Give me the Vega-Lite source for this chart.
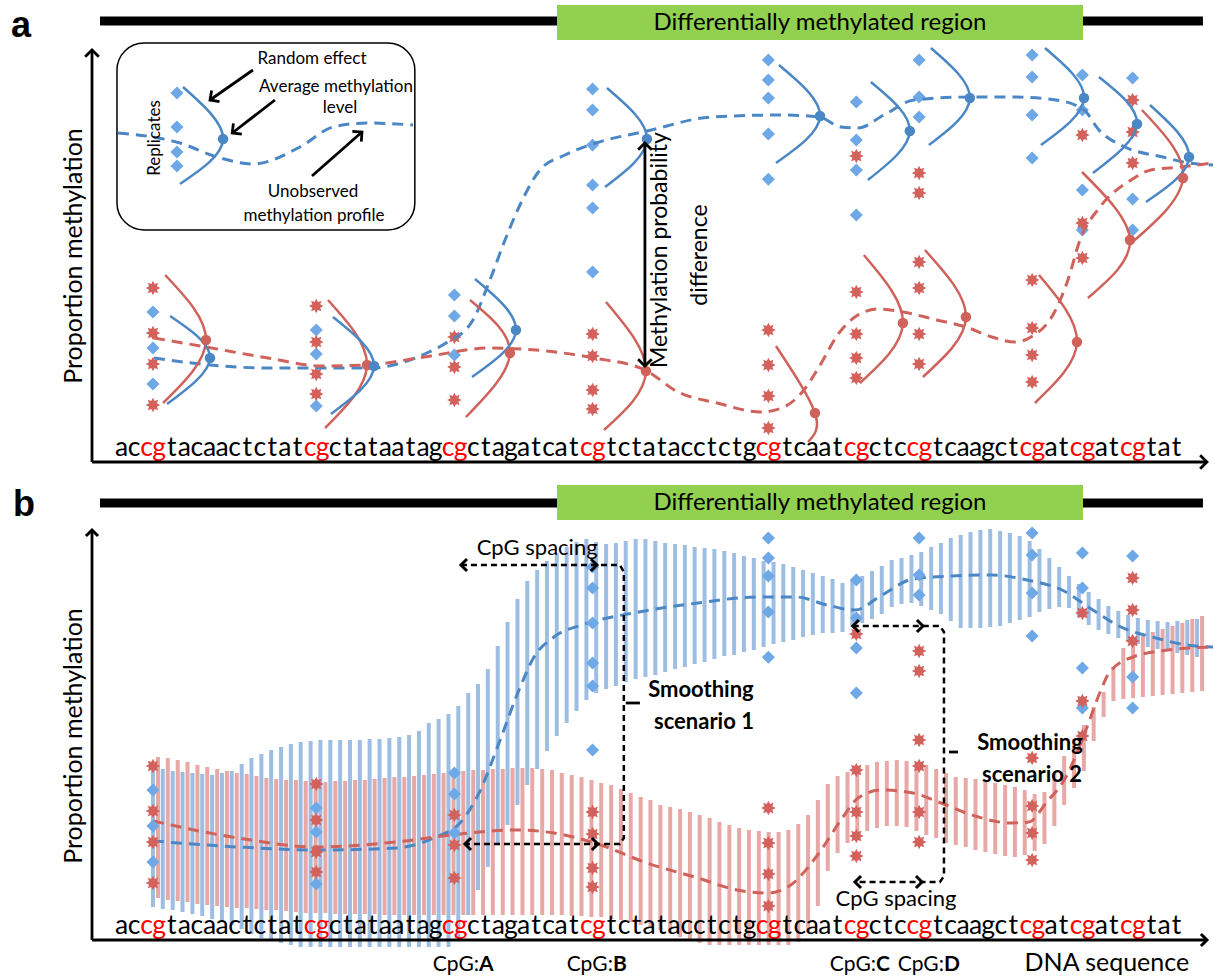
{
"$schema":"https://vega.github.io/schema/vega-lite/v6.json",
"padding":0,"spacing":0,"bounds":"flush","background":"white",
"config":{"view":{"stroke":null},"axis":{"disable":true},"font":"Lato"},
"datasets":{
"dna":[{"x":0.5,"y":0.015,"t":"a","r":"k"},{"x":1.5,"y":0.015,"t":"c","r":"k"},{"x":2.5,"y":0.015,"t":"c","r":"r"},{"x":3.5,"y":0.015,"t":"g","r":"r"},{"x":4.5,"y":0.015,"t":"t","r":"k"},{"x":5.5,"y":0.015,"t":"a","r":"k"},{"x":6.5,"y":0.015,"t":"c","r":"k"},{"x":7.5,"y":0.015,"t":"a","r":"k"},{"x":8.5,"y":0.015,"t":"a","r":"k"},{"x":9.5,"y":0.015,"t":"c","r":"k"},{"x":10.5,"y":0.015,"t":"t","r":"k"},{"x":11.5,"y":0.015,"t":"c","r":"k"},{"x":12.5,"y":0.015,"t":"t","r":"k"},{"x":13.5,"y":0.015,"t":"a","r":"k"},{"x":14.5,"y":0.015,"t":"t","r":"k"},{"x":15.5,"y":0.015,"t":"c","r":"r"},{"x":16.5,"y":0.015,"t":"g","r":"r"},{"x":17.5,"y":0.015,"t":"c","r":"k"},{"x":18.5,"y":0.015,"t":"t","r":"k"},{"x":19.5,"y":0.015,"t":"a","r":"k"},{"x":20.5,"y":0.015,"t":"t","r":"k"},{"x":21.5,"y":0.015,"t":"a","r":"k"},{"x":22.5,"y":0.015,"t":"a","r":"k"},{"x":23.5,"y":0.015,"t":"t","r":"k"},{"x":24.5,"y":0.015,"t":"a","r":"k"},{"x":25.5,"y":0.015,"t":"g","r":"k"},{"x":26.5,"y":0.015,"t":"c","r":"r"},{"x":27.5,"y":0.015,"t":"g","r":"r"},{"x":28.5,"y":0.015,"t":"c","r":"k"},{"x":29.5,"y":0.015,"t":"t","r":"k"},{"x":30.5,"y":0.015,"t":"a","r":"k"},{"x":31.5,"y":0.015,"t":"g","r":"k"},{"x":32.5,"y":0.015,"t":"a","r":"k"},{"x":33.5,"y":0.015,"t":"t","r":"k"},{"x":34.5,"y":0.015,"t":"c","r":"k"},{"x":35.5,"y":0.015,"t":"a","r":"k"},{"x":36.5,"y":0.015,"t":"t","r":"k"},{"x":37.5,"y":0.015,"t":"c","r":"r"},{"x":38.5,"y":0.015,"t":"g","r":"r"},{"x":39.5,"y":0.015,"t":"t","r":"k"},{"x":40.5,"y":0.015,"t":"c","r":"k"},{"x":41.5,"y":0.015,"t":"t","r":"k"},{"x":42.5,"y":0.015,"t":"a","r":"k"},{"x":43.5,"y":0.015,"t":"t","r":"k"},{"x":44.5,"y":0.015,"t":"a","r":"k"},{"x":45.5,"y":0.015,"t":"c","r":"k"},{"x":46.5,"y":0.015,"t":"c","r":"k"},{"x":47.5,"y":0.015,"t":"t","r":"k"},{"x":48.5,"y":0.015,"t":"c","r":"k"},{"x":49.5,"y":0.015,"t":"t","r":"k"},{"x":50.5,"y":0.015,"t":"g","r":"k"},{"x":51.5,"y":0.015,"t":"c","r":"r"},{"x":52.5,"y":0.015,"t":"g","r":"r"},{"x":53.5,"y":0.015,"t":"t","r":"k"},{"x":54.5,"y":0.015,"t":"c","r":"k"},{"x":55.5,"y":0.015,"t":"a","r":"k"},{"x":56.5,"y":0.015,"t":"a","r":"k"},{"x":57.5,"y":0.015,"t":"t","r":"k"},{"x":58.5,"y":0.015,"t":"c","r":"r"},{"x":59.5,"y":0.015,"t":"g","r":"r"},{"x":60.5,"y":0.015,"t":"c","r":"k"},{"x":61.5,"y":0.015,"t":"t","r":"k"},{"x":62.5,"y":0.015,"t":"c","r":"k"},{"x":63.5,"y":0.015,"t":"c","r":"r"},{"x":64.5,"y":0.015,"t":"g","r":"r"},{"x":65.5,"y":0.015,"t":"t","r":"k"},{"x":66.5,"y":0.015,"t":"c","r":"k"},{"x":67.5,"y":0.015,"t":"a","r":"k"},{"x":68.5,"y":0.015,"t":"a","r":"k"},{"x":69.5,"y":0.015,"t":"g","r":"k"},{"x":70.5,"y":0.015,"t":"c","r":"k"},{"x":71.5,"y":0.015,"t":"t","r":"k"},{"x":72.5,"y":0.015,"t":"c","r":"r"},{"x":73.5,"y":0.015,"t":"g","r":"r"},{"x":74.5,"y":0.015,"t":"a","r":"k"},{"x":75.5,"y":0.015,"t":"t","r":"k"},{"x":76.5,"y":0.015,"t":"c","r":"r"},{"x":77.5,"y":0.015,"t":"g","r":"r"},{"x":78.5,"y":0.015,"t":"a","r":"k"},{"x":79.5,"y":0.015,"t":"t","r":"k"},{"x":80.5,"y":0.015,"t":"c","r":"r"},{"x":81.5,"y":0.015,"t":"g","r":"r"},{"x":82.5,"y":0.015,"t":"t","r":"k"},{"x":83.5,"y":0.015,"t":"a","r":"k"},{"x":84.5,"y":0.015,"t":"t","r":"k"}],
"bands":[{"x":2,"x2":4},{"x":15,"x2":17},{"x":26,"x2":28},{"x":37,"x2":39},{"x":51,"x2":53},{"x":58,"x2":60},{"x":63,"x2":65},{"x":72,"x2":74},{"x":76,"x2":78},{"x":80,"x2":82}],
"obs":[
{"x":3,"y":0.435,"g":"r"},{"x":3,"y":0.3225,"g":"r"},{"x":3,"y":0.245,"g":"r"},{"x":3,"y":0.1425,"g":"r"},
{"x":3,"y":0.375,"g":"b"},{"x":3,"y":0.285,"g":"b"},{"x":3,"y":0.195,"g":"b"},
{"x":16,"y":0.39,"g":"r"},{"x":16,"y":0.30,"g":"r"},{"x":16,"y":0.22,"g":"r"},{"x":16,"y":0.17,"g":"r"},
{"x":16,"y":0.33,"g":"b"},{"x":16,"y":0.27,"g":"b"},{"x":16,"y":0.14,"g":"b"},
{"x":27,"y":0.4175,"g":"b"},{"x":27,"y":0.365,"g":"b"},{"x":27,"y":0.2675,"g":"b"},
{"x":27,"y":0.3125,"g":"r"},{"x":27,"y":0.2375,"g":"r"},{"x":27,"y":0.155,"g":"r"},
{"x":38,"y":0.9325,"g":"b"},{"x":38,"y":0.88,"g":"b"},{"x":38,"y":0.7925,"g":"b"},{"x":38,"y":0.6925,"g":"b"},{"x":38,"y":0.635,"g":"b"},{"x":38,"y":0.475,"g":"b"},
{"x":38,"y":0.32,"g":"r"},{"x":38,"y":0.265,"g":"r"},{"x":38,"y":0.18,"g":"r"},{"x":38,"y":0.1325,"g":"r"},
{"x":52,"y":1.005,"g":"b"},{"x":52,"y":0.955,"g":"b"},{"x":52,"y":0.91,"g":"b"},{"x":52,"y":0.82,"g":"b"},{"x":52,"y":0.707,"g":"b"},
{"x":52,"y":0.33,"g":"r"},{"x":52,"y":0.2425,"g":"r"},{"x":52,"y":0.165,"g":"r"},{"x":52,"y":0.085,"g":"r"},
{"x":59,"y":0.9,"g":"b"},{"x":59,"y":0.805,"g":"b"},{"x":59,"y":0.73,"g":"b"},{"x":59,"y":0.6175,"g":"b"},
{"x":59,"y":0.765,"g":"r"},{"x":59,"y":0.425,"g":"r"},{"x":59,"y":0.32,"g":"r"},{"x":59,"y":0.26,"g":"r"},{"x":59,"y":0.21,"g":"r"},
{"x":64,"y":1.005,"g":"b"},{"x":64,"y":0.9125,"g":"b"},{"x":64,"y":0.8625,"g":"b"},
{"x":64,"y":0.7225,"g":"r"},{"x":64,"y":0.6725,"g":"r"},{"x":64,"y":0.5,"g":"r"},{"x":64,"y":0.435,"g":"r"},{"x":64,"y":0.32,"g":"r"},{"x":64,"y":0.245,"g":"r"},
{"x":73,"y":1.0175,"g":"b"},{"x":73,"y":0.9625,"g":"b"},{"x":73,"y":0.8675,"g":"b"},{"x":73,"y":0.76,"g":"b"},
{"x":73,"y":0.455,"g":"r"},{"x":73,"y":0.335,"g":"r"},{"x":73,"y":0.2675,"g":"r"},{"x":73,"y":0.2,"g":"r"},
{"x":77,"y":0.9675,"g":"b"},{"x":77,"y":0.88,"g":"b"},{"x":77,"y":0.68,"g":"b"},{"x":77,"y":0.58,"g":"b"},
{"x":77,"y":0.8175,"g":"r"},{"x":77,"y":0.5975,"g":"r"},{"x":77,"y":0.51,"g":"r"},
{"x":81,"y":0.96,"g":"b"},{"x":81,"y":0.6575,"g":"b"},{"x":81,"y":0.58,"g":"b"},
{"x":81,"y":0.905,"g":"r"},{"x":81,"y":0.825,"g":"r"},{"x":81,"y":0.7475,"g":"r"}],
"arcsA":[
{"id":"R1","g":"r","o":0,"x":3.97,"y":0.4675},{"id":"R1","g":"r","o":1,"x":7.22,"y":0.305},{"id":"R1","g":"r","o":2,"x":3.80,"y":0.1475},
{"id":"R2","g":"r","o":0,"x":16.93,"y":0.405},{"id":"R2","g":"r","o":1,"x":20.04,"y":0.2425},{"id":"R2","g":"r","o":2,"x":16.70,"y":0.085},
{"id":"R3","g":"r","o":0,"x":28.24,"y":0.405},{"id":"R3","g":"r","o":1,"x":31.42,"y":0.2725},{"id":"R3","g":"r","o":2,"x":27.92,"y":0.1125},
{"id":"R4","g":"r","o":0,"x":39.07,"y":0.4},{"id":"R4","g":"r","o":1,"x":42.25,"y":0.2275},{"id":"R4","g":"r","o":2,"x":38.91,"y":0.08},
{"id":"R5","g":"r","o":0,"x":52.60,"y":0.29},{"id":"R5","g":"r","o":1,"x":55.71,"y":0.1225},{"id":"R5","g":"r","o":2,"x":55.15,"y":0.05},
{"id":"R6","g":"r","o":0,"x":59.60,"y":0.5175},{"id":"R6","g":"r","o":1,"x":62.71,"y":0.3475},{"id":"R6","g":"r","o":2,"x":59.29,"y":0.1975},
{"id":"R7","g":"r","o":0,"x":64.46,"y":0.53},{"id":"R7","g":"r","o":1,"x":67.73,"y":0.3625},{"id":"R7","g":"r","o":2,"x":64.30,"y":0.2125},
{"id":"R8","g":"r","o":0,"x":73.54,"y":0.4675},{"id":"R8","g":"r","o":1,"x":76.57,"y":0.3},{"id":"R8","g":"r","o":2,"x":73.22,"y":0.1475},
{"id":"R9","g":"r","o":0,"x":76.97,"y":0.725},{"id":"R9","g":"r","o":1,"x":80.79,"y":0.555},{"id":"R9","g":"r","o":2,"x":77.44,"y":0.41},
{"id":"R10","g":"r","o":0,"x":81.74,"y":0.88},{"id":"R10","g":"r","o":1,"x":85.01,"y":0.71},{"id":"R10","g":"r","o":2,"x":80.71,"y":0.5425},
{"id":"B1","g":"b","o":0,"x":4.36,"y":0.365},{"id":"B1","g":"b","o":1,"x":7.54,"y":0.26},{"id":"B1","g":"b","o":2,"x":4.12,"y":0.145},
{"id":"B2","g":"b","o":0,"x":17.33,"y":0.3625},{"id":"B2","g":"b","o":1,"x":20.60,"y":0.24},{"id":"B2","g":"b","o":2,"x":17.17,"y":0.12},
{"id":"B3","g":"b","o":0,"x":28.64,"y":0.4575},{"id":"B3","g":"b","o":1,"x":31.90,"y":0.33},{"id":"B3","g":"b","o":2,"x":28.40,"y":0.2125},
{"id":"B4","g":"b","o":0,"x":39.15,"y":0.935},{"id":"B4","g":"b","o":1,"x":42.33,"y":0.8075},{"id":"B4","g":"b","o":2,"x":38.99,"y":0.6875},
{"id":"B5","g":"b","o":0,"x":52.84,"y":0.9925},{"id":"B5","g":"b","o":1,"x":56.11,"y":0.865},{"id":"B5","g":"b","o":2,"x":52.60,"y":0.7475},
{"id":"B6","g":"b","o":0,"x":60.16,"y":0.95},{"id":"B6","g":"b","o":1,"x":63.26,"y":0.8275},{"id":"B6","g":"b","o":2,"x":59.92,"y":0.705},
{"id":"B7","g":"b","o":0,"x":64.94,"y":1.035},{"id":"B7","g":"b","o":1,"x":68.04,"y":0.91},{"id":"B7","g":"b","o":2,"x":64.78,"y":0.7925},
{"id":"B8","g":"b","o":0,"x":74.02,"y":1.035},{"id":"B8","g":"b","o":1,"x":77.13,"y":0.91},{"id":"B8","g":"b","o":2,"x":73.70,"y":0.7925},
{"id":"B9","g":"b","o":0,"x":78.32,"y":0.9625},{"id":"B9","g":"b","o":1,"x":81.35,"y":0.845},{"id":"B9","g":"b","o":2,"x":77.84,"y":0.7225},
{"id":"B10","g":"b","o":0,"x":82.38,"y":0.8925},{"id":"B10","g":"b","o":1,"x":85.49,"y":0.7625},{"id":"B10","g":"b","o":2,"x":82.06,"y":0.65},
{"id":"I","g":"b","o":0,"x":5.39,"y":0.9375},{"id":"I","g":"b","o":1,"x":8.58,"y":0.8075},{"id":"I","g":"b","o":2,"x":5.15,"y":0.695}],
"dashA":[
{"id":"bm","g":"b","x":3.08,"y":0.26},{"id":"bm","g":"b","x":7.54,"y":0.2425},{"id":"bm","g":"b","x":12.16,"y":0.235},{"id":"bm","g":"b","x":16.38,"y":0.235},{"id":"bm","g":"b","x":20.28,"y":0.235},{"id":"bm","g":"b","x":24.98,"y":0.275},{"id":"bm","g":"b","x":26.33,"y":0.2975},{"id":"bm","g":"b","x":28.48,"y":0.355},{"id":"bm","g":"b","x":29.83,"y":0.455},{"id":"bm","g":"b","x":31.03,"y":0.555},{"id":"bm","g":"b","x":32.22,"y":0.6425},{"id":"bm","g":"b","x":33.81,"y":0.73},{"id":"bm","g":"b","x":35.80,"y":0.7675},{"id":"bm","g":"b","x":38.27,"y":0.7975},{"id":"bm","g":"b","x":42.33,"y":0.8275},{"id":"bm","g":"b","x":47.51,"y":0.8625},{"id":"bm","g":"b","x":53.00,"y":0.8675},{"id":"bm","g":"b","x":56.03,"y":0.8625},{"id":"bm","g":"b","x":57.78,"y":0.8375},{"id":"bm","g":"b","x":59.14,"y":0.835},{"id":"bm","g":"b","x":61.20,"y":0.8675},{"id":"bm","g":"b","x":63.59,"y":0.905},{"id":"bm","g":"b","x":68.04,"y":0.9125},{"id":"bm","g":"b","x":71.47,"y":0.9125},{"id":"bm","g":"b","x":74.90,"y":0.905},{"id":"bm","g":"b","x":77.13,"y":0.88},{"id":"bm","g":"b","x":78.32,"y":0.83},{"id":"bm","g":"b","x":80.39,"y":0.7875},{"id":"bm","g":"b","x":83.41,"y":0.7625},{"id":"bm","g":"b","x":85.48,"y":0.7475},{"id":"bm","g":"b","x":87.4,"y":0.7425},
{"id":"rm","g":"r","x":3.08,"y":0.31},{"id":"rm","g":"r","x":7.22,"y":0.2875},{"id":"rm","g":"r","x":12.16,"y":0.26},{"id":"rm","g":"r","x":16.38,"y":0.24},{"id":"rm","g":"r","x":20.04,"y":0.2425},{"id":"rm","g":"r","x":24.58,"y":0.2625},{"id":"rm","g":"r","x":29.91,"y":0.285},{"id":"rm","g":"r","x":33.49,"y":0.28},{"id":"rm","g":"r","x":38.11,"y":0.26},{"id":"rm","g":"r","x":42.17,"y":0.23},{"id":"rm","g":"r","x":44.80,"y":0.175},{"id":"rm","g":"r","x":47.91,"y":0.1475},{"id":"rm","g":"r","x":51.41,"y":0.125},{"id":"rm","g":"r","x":53.24,"y":0.1375},{"id":"rm","g":"r","x":54.83,"y":0.18},{"id":"rm","g":"r","x":56.03,"y":0.2375},{"id":"rm","g":"r","x":57.62,"y":0.3225},{"id":"rm","g":"r","x":58.89,"y":0.3625},{"id":"rm","g":"r","x":60.73,"y":0.3825},{"id":"rm","g":"r","x":62.71,"y":0.375},{"id":"rm","g":"r","x":65.42,"y":0.355},{"id":"rm","g":"r","x":67.73,"y":0.3375},{"id":"rm","g":"r","x":69.80,"y":0.3125},{"id":"rm","g":"r","x":71.63,"y":0.3},{"id":"rm","g":"r","x":72.91,"y":0.3125},{"id":"rm","g":"r","x":74.74,"y":0.3725},{"id":"rm","g":"r","x":75.85,"y":0.455},{"id":"rm","g":"r","x":76.81,"y":0.555},{"id":"rm","g":"r","x":78.40,"y":0.6375},{"id":"rm","g":"r","x":80.87,"y":0.705},{"id":"rm","g":"r","x":82.46,"y":0.73},{"id":"rm","g":"r","x":84.85,"y":0.7375},{"id":"rm","g":"r","x":87.4,"y":0.7475},
{"id":"in","g":"b","x":0.215,"y":0.8225},{"id":"in","g":"b","x":5.15,"y":0.7975},{"id":"in","g":"b","x":8.10,"y":0.7625},{"id":"in","g":"b","x":10.96,"y":0.745},{"id":"in","g":"b","x":14.70,"y":0.7875},{"id":"in","g":"b","x":17.33,"y":0.8375},{"id":"in","g":"b","x":20.04,"y":0.8475},{"id":"in","g":"b","x":23.70,"y":0.8425}],
"dashB":[
{"id":"bm","g":"b","x":3.00,"y":0.2475},{"id":"bm","g":"b","x":9.77,"y":0.2325},{"id":"bm","g":"b","x":16.04,"y":0.225},{"id":"bm","g":"b","x":22.35,"y":0.23},{"id":"bm","g":"b","x":25.53,"y":0.2575},{"id":"bm","g":"b","x":27.44,"y":0.2925},{"id":"bm","g":"b","x":28.96,"y":0.3675},{"id":"bm","g":"b","x":30.55,"y":0.4925},{"id":"bm","g":"b","x":32.14,"y":0.625},{"id":"bm","g":"b","x":33.34,"y":0.7075},{"id":"bm","g":"b","x":34.93,"y":0.7575},{"id":"bm","g":"b","x":37.40,"y":0.79},{"id":"bm","g":"b","x":41.69,"y":0.82},{"id":"bm","g":"b","x":46.39,"y":0.8425},{"id":"bm","g":"b","x":51.09,"y":0.8575},{"id":"bm","g":"b","x":54.20,"y":0.8575},{"id":"bm","g":"b","x":56.67,"y":0.8375},{"id":"bm","g":"b","x":58.89,"y":0.825},{"id":"bm","g":"b","x":61.04,"y":0.8625},{"id":"bm","g":"b","x":63.51,"y":0.9025},{"id":"bm","g":"b","x":66.61,"y":0.91},{"id":"bm","g":"b","x":69.80,"y":0.9125},{"id":"bm","g":"b","x":72.59,"y":0.9},{"id":"bm","g":"b","x":75.37,"y":0.875},{"id":"bm","g":"b","x":77.84,"y":0.825},{"id":"bm","g":"b","x":80.07,"y":0.7825},{"id":"bm","g":"b","x":82.86,"y":0.755},{"id":"bm","g":"b","x":85.33,"y":0.7375},{"id":"bm","g":"b","x":87.4,"y":0.7325},
{"id":"rm","g":"r","x":3.00,"y":0.2975},{"id":"rm","g":"r","x":9.77,"y":0.255},{"id":"rm","g":"r","x":16.04,"y":0.2325},{"id":"rm","g":"r","x":22.35,"y":0.245},{"id":"rm","g":"r","x":27.44,"y":0.265},{"id":"rm","g":"r","x":31.82,"y":0.275},{"id":"rm","g":"r","x":34.93,"y":0.2675},{"id":"rm","g":"r","x":38.43,"y":0.24},{"id":"rm","g":"r","x":42.33,"y":0.1925},{"id":"rm","g":"r","x":46.39,"y":0.155},{"id":"rm","g":"r","x":49.50,"y":0.125},{"id":"rm","g":"r","x":51.97,"y":0.1175},{"id":"rm","g":"r","x":53.56,"y":0.1325},{"id":"rm","g":"r","x":56.03,"y":0.2175},{"id":"rm","g":"r","x":57.94,"y":0.3075},{"id":"rm","g":"r","x":59.14,"y":0.355},{"id":"rm","g":"r","x":61.04,"y":0.375},{"id":"rm","g":"r","x":63.51,"y":0.3675},{"id":"rm","g":"r","x":65.74,"y":0.3425},{"id":"rm","g":"r","x":68.21,"y":0.3125},{"id":"rm","g":"r","x":71.31,"y":0.2925},{"id":"rm","g":"r","x":72.75,"y":0.295},{"id":"rm","g":"r","x":74.10,"y":0.3425},{"id":"rm","g":"r","x":75.69,"y":0.4075},{"id":"rm","g":"r","x":77.28,"y":0.525},{"id":"rm","g":"r","x":78.48,"y":0.625},{"id":"rm","g":"r","x":79.12,"y":0.6675},{"id":"rm","g":"r","x":81.02,"y":0.7075},{"id":"rm","g":"r","x":83.81,"y":0.725},{"id":"rm","g":"r","x":87.4,"y":0.7325}],
"bars":[
{"x":3.00,"xr":3.40,"bl":0.0825,"bh":0.43,"rl":0.105,"rh":0.4575},
{"x":3.78,"xr":4.18,"bl":0.0775,"bh":0.4275,"rl":0.1,"rh":0.455},
{"x":4.57,"xr":4.97,"bl":0.075,"bh":0.4225,"rl":0.0975,"rh":0.45},
{"x":5.35,"xr":5.75,"bl":0.07,"bh":0.42,"rl":0.095,"rh":0.445},
{"x":6.14,"xr":6.54,"bl":0.065,"bh":0.4175,"rl":0.09,"rh":0.4375},
{"x":6.92,"xr":7.32,"bl":0.06,"bh":0.415,"rl":0.0875,"rh":0.4325},
{"x":7.71,"xr":8.11,"bl":0.0525,"bh":0.4125,"rl":0.085,"rh":0.4275},
{"x":8.49,"xr":8.89,"bl":0.045,"bh":0.4175,"rl":0.0825,"rh":0.4225},
{"x":9.27,"xr":9.67,"bl":0.0375,"bh":0.4225,"rl":0.08,"rh":0.4175},
{"x":10.06,"xr":10.46,"bl":0.0275,"bh":0.44,"rl":0.08,"rh":0.415},
{"x":10.84,"xr":11.24,"bl":0.015,"bh":0.455,"rl":0.0775,"rh":0.41},
{"x":11.63,"xr":12.03,"bl":0.005,"bh":0.465,"rl":0.075,"rh":0.405},
{"x":12.41,"xr":12.81,"bl":-0.0025,"bh":0.475,"rl":0.075,"rh":0.4025},
{"x":13.20,"xr":13.60,"bl":-0.0075,"bh":0.4825,"rl":0.0725,"rh":0.4},
{"x":13.98,"xr":14.38,"bl":-0.0125,"bh":0.49,"rl":0.07,"rh":0.4},
{"x":14.76,"xr":15.16,"bl":-0.0175,"bh":0.495,"rl":0.0675,"rh":0.3975},
{"x":15.55,"xr":15.95,"bl":-0.0175,"bh":0.4975,"rl":0.0675,"rh":0.395},
{"x":16.33,"xr":16.73,"bl":-0.0175,"bh":0.5,"rl":0.0675,"rh":0.395},
{"x":17.12,"xr":17.52,"bl":-0.0175,"bh":0.5,"rl":0.065,"rh":0.3975},
{"x":17.90,"xr":18.30,"bl":-0.0175,"bh":0.5,"rl":0.065,"rh":0.3975},
{"x":18.69,"xr":19.09,"bl":-0.0175,"bh":0.5,"rl":0.065,"rh":0.4},
{"x":19.47,"xr":19.87,"bl":-0.0175,"bh":0.5,"rl":0.065,"rh":0.4},
{"x":20.25,"xr":20.65,"bl":-0.0175,"bh":0.5025,"rl":0.065,"rh":0.4025},
{"x":21.04,"xr":21.44,"bl":-0.0175,"bh":0.5025,"rl":0.0625,"rh":0.405},
{"x":21.82,"xr":22.22,"bl":-0.0175,"bh":0.505,"rl":0.0625,"rh":0.4075},
{"x":22.61,"xr":23.01,"bl":-0.0175,"bh":0.5075,"rl":0.0625,"rh":0.4075},
{"x":23.39,"xr":23.79,"bl":-0.0175,"bh":0.5125,"rl":0.0625,"rh":0.41},
{"x":24.18,"xr":24.58,"bl":-0.0175,"bh":0.5225,"rl":0.0625,"rh":0.4125},
{"x":24.96,"xr":25.36,"bl":-0.0175,"bh":0.5425,"rl":0.0625,"rh":0.415},
{"x":25.74,"xr":26.14,"bl":-0.0175,"bh":0.5525,"rl":0.0625,"rh":0.4175},
{"x":26.53,"xr":26.93,"bl":-0.0175,"bh":0.565,"rl":0.0625,"rh":0.42},
{"x":27.31,"xr":27.71,"bl":0.005,"bh":0.585,"rl":0.0625,"rh":0.4225},
{"x":28.10,"xr":28.50,"bl":0.0625,"bh":0.6175,"rl":0.0625,"rh":0.425},
{"x":28.88,"xr":29.28,"bl":0.125,"bh":0.64,"rl":0.0625,"rh":0.425},
{"x":29.66,"xr":30.06,"bl":0.1825,"bh":0.6775,"rl":0.0625,"rh":0.4275},
{"x":30.45,"xr":30.85,"bl":0.2375,"bh":0.735,"rl":0.0625,"rh":0.4275},
{"x":31.23,"xr":31.63,"bl":0.2875,"bh":0.795,"rl":0.0625,"rh":0.43},
{"x":32.02,"xr":32.42,"bl":0.3375,"bh":0.8525,"rl":0.0625,"rh":0.43},
{"x":32.80,"xr":33.20,"bl":0.3875,"bh":0.8975,"rl":0.0625,"rh":0.43},
{"x":33.59,"xr":33.99,"bl":0.4275,"bh":0.925,"rl":0.0625,"rh":0.4275},
{"x":34.37,"xr":34.77,"bl":0.4725,"bh":0.9475,"rl":0.0625,"rh":0.425},
{"x":35.15,"xr":35.55,"bl":0.51,"bh":0.9675,"rl":0.0625,"rh":0.4175},
{"x":35.94,"xr":36.34,"bl":0.5425,"bh":0.9825,"rl":0.06,"rh":0.4125},
{"x":36.72,"xr":37.12,"bl":0.5725,"bh":0.995,"rl":0.06,"rh":0.4075},
{"x":37.51,"xr":37.91,"bl":0.6,"bh":1.0025,"rl":0.0575,"rh":0.4},
{"x":38.29,"xr":38.69,"bl":0.6175,"bh":0.995,"rl":0.0575,"rh":0.3925},
{"x":39.08,"xr":39.48,"bl":0.6275,"bh":0.99,"rl":0.0525,"rh":0.3875},
{"x":39.86,"xr":40.26,"bl":0.635,"bh":0.9925,"rl":0.05,"rh":0.3775},
{"x":40.64,"xr":41.04,"bl":0.645,"bh":0.9975,"rl":0.045,"rh":0.3675},
{"x":41.43,"xr":41.83,"bl":0.6525,"bh":1.0025,"rl":0.0375,"rh":0.3575},
{"x":42.21,"xr":42.61,"bl":0.6575,"bh":1.0025,"rl":0.0325,"rh":0.35},
{"x":43.00,"xr":43.40,"bl":0.6625,"bh":0.9975,"rl":0.025,"rh":0.3375},
{"x":43.78,"xr":44.18,"bl":0.67,"bh":0.9925,"rl":0.0175,"rh":0.3325},
{"x":44.57,"xr":44.97,"bl":0.6775,"bh":0.99,"rl":0.0075,"rh":0.3275},
{"x":45.35,"xr":45.75,"bl":0.6825,"bh":0.9875,"rl":0,"rh":0.32},
{"x":46.13,"xr":46.53,"bl":0.69,"bh":0.9825,"rl":-0.0075,"rh":0.3125},
{"x":46.92,"xr":47.32,"bl":0.695,"bh":0.98,"rl":-0.0125,"rh":0.305},
{"x":47.70,"xr":48.10,"bl":0.7025,"bh":0.9775,"rl":-0.0125,"rh":0.295},
{"x":48.49,"xr":48.89,"bl":0.71,"bh":0.9725,"rl":-0.0125,"rh":0.2875},
{"x":49.27,"xr":49.67,"bl":0.7125,"bh":0.9675,"rl":-0.0125,"rh":0.28},
{"x":50.05,"xr":50.45,"bl":0.72,"bh":0.96,"rl":-0.0125,"rh":0.275},
{"x":50.84,"xr":51.24,"bl":0.725,"bh":0.955,"rl":-0.0125,"rh":0.2725},
{"x":51.62,"xr":52.02,"bl":0.7325,"bh":0.9475,"rl":-0.0125,"rh":0.27},
{"x":52.41,"xr":52.81,"bl":0.74,"bh":0.945,"rl":-0.0125,"rh":0.27},
{"x":53.19,"xr":53.59,"bl":0.745,"bh":0.94,"rl":-0.0125,"rh":0.275},
{"x":53.98,"xr":54.38,"bl":0.75,"bh":0.9325,"rl":-0.005,"rh":0.29},
{"x":54.76,"xr":55.16,"bl":0.7575,"bh":0.925,"rl":0.02,"rh":0.3125},
{"x":55.54,"xr":55.94,"bl":0.7625,"bh":0.9175,"rl":0.085,"rh":0.35},
{"x":56.33,"xr":56.73,"bl":0.7675,"bh":0.91,"rl":0.1725,"rh":0.39},
{"x":57.11,"xr":57.51,"bl":0.7675,"bh":0.9025,"rl":0.2175,"rh":0.41},
{"x":57.90,"xr":58.30,"bl":0.77,"bh":0.8925,"rl":0.2425,"rh":0.42},
{"x":58.68,"xr":59.08,"bl":0.7825,"bh":0.9,"rl":0.2625,"rh":0.43},
{"x":59.47,"xr":59.87,"bl":0.7925,"bh":0.91,"rl":0.2725,"rh":0.4375},
{"x":60.25,"xr":60.65,"bl":0.8025,"bh":0.9225,"rl":0.28,"rh":0.445},
{"x":61.03,"xr":61.43,"bl":0.815,"bh":0.935,"rl":0.285,"rh":0.4475},
{"x":61.82,"xr":62.22,"bl":0.8325,"bh":0.95,"rl":0.285,"rh":0.45},
{"x":62.60,"xr":63.00,"bl":0.84,"bh":0.955,"rl":0.2825,"rh":0.4475},
{"x":63.39,"xr":63.79,"bl":0.8425,"bh":0.9625,"rl":0.2725,"rh":0.4425},
{"x":64.17,"xr":64.57,"bl":0.835,"bh":0.97,"rl":0.2625,"rh":0.4375},
{"x":64.96,"xr":65.36,"bl":0.825,"bh":0.9825,"rl":0.255,"rh":0.4275},
{"x":65.74,"xr":66.14,"bl":0.815,"bh":0.9925,"rl":0.2425,"rh":0.4175},
{"x":66.52,"xr":66.92,"bl":0.7975,"bh":1.005,"rl":0.2375,"rh":0.4075},
{"x":67.31,"xr":67.71,"bl":0.78,"bh":1.0125,"rl":0.2325,"rh":0.405},
{"x":68.09,"xr":68.49,"bl":0.78,"bh":1.02,"rl":0.225,"rh":0.4025},
{"x":68.88,"xr":69.28,"bl":0.78,"bh":1.025,"rl":0.22,"rh":0.3975},
{"x":69.66,"xr":70.06,"bl":0.7825,"bh":1.0275,"rl":0.215,"rh":0.3925},
{"x":70.45,"xr":70.85,"bl":0.785,"bh":1.0225,"rl":0.21,"rh":0.3875},
{"x":71.23,"xr":71.63,"bl":0.7925,"bh":1.0175,"rl":0.2075,"rh":0.3825},
{"x":72.01,"xr":72.41,"bl":0.8,"bh":1.01,"rl":0.2125,"rh":0.375},
{"x":72.80,"xr":73.20,"bl":0.8075,"bh":0.9975,"rl":0.2225,"rh":0.365},
{"x":73.58,"xr":73.98,"bl":0.82,"bh":0.9775,"rl":0.24,"rh":0.37},
{"x":74.37,"xr":74.77,"bl":0.8275,"bh":0.955,"rl":0.285,"rh":0.4175},
{"x":75.15,"xr":75.55,"bl":0.8325,"bh":0.9325,"rl":0.3375,"rh":0.46},
{"x":75.94,"xr":76.34,"bl":0.83,"bh":0.91,"rl":0.38,"rh":0.5025},
{"x":76.72,"xr":77.12,"bl":0.8075,"bh":0.89,"rl":0.4225,"rh":0.5375},
{"x":77.50,"xr":77.90,"bl":0.7875,"bh":0.87,"rl":0.4975,"rh":0.5825},
{"x":78.29,"xr":78.69,"bl":0.775,"bh":0.8525,"rl":0.5575,"rh":0.62},
{"x":79.07,"xr":79.47,"bl":0.765,"bh":0.835,"rl":0.5975,"rh":0.6825},
{"x":79.86,"xr":80.26,"bl":0.755,"bh":0.8225,"rl":0.6025,"rh":0.73},
{"x":80.64,"xr":81.04,"bl":0.7475,"bh":0.8125,"rl":0.605,"rh":0.75},
{"x":81.42,"xr":81.82,"bl":0.74,"bh":0.805,"rl":0.6075,"rh":0.76},
{"x":82.21,"xr":82.61,"bl":0.7325,"bh":0.8,"rl":0.61,"rh":0.77},
{"x":82.99,"xr":83.39,"bl":0.7275,"bh":0.7975,"rl":0.6125,"rh":0.7775},
{"x":83.78,"xr":84.18,"bl":0.7225,"bh":0.795,"rl":0.615,"rh":0.785},
{"x":84.56,"xr":84.96,"bl":0.7175,"bh":0.7975,"rl":0.6175,"rh":0.7925},
{"x":85.35,"xr":85.75,"bl":0.7125,"bh":0.8,"rl":0.62,"rh":0.8025},
{"x":86.13,"xr":86.53,"bl":0.7075,"bh":0.8025,"rl":0.6225,"rh":0.81}]
},
"vconcat":[
{
"width":1214,"height":489,
"encoding":{
 "x":{"field":"x","type":"quantitative","scale":{"domain":[-9.18,87.48],"nice":false,"zero":false},"axis":null},
 "y":{"field":"y","type":"quantitative","scale":{"domain":[-0.0675,1.155],"nice":false,"zero":false},"axis":null}
},
"layer":[
 {"data":{"name":"bands"},"mark":{"type":"rect","color":"#e6e6e6"},
  "encoding":{"x2":{"field":"x2"},"y":{"datum":0,"type":"quantitative","scale":{"domain":[-0.0675,1.155],"nice":false,"zero":false},"axis":null},"y2":{"datum":1.0425}}},
 {"data":{"values":[{"x":-1.22,"x2":86.6,"y":1.1025}]},"mark":{"type":"rule","color":"black","strokeWidth":9},"encoding":{"x2":{"field":"x2"}}},
 {"data":{"values":[{"x":35.17,"x2":77.05,"y":1.055,"y2":1.1425}]},"mark":{"type":"rect","color":"#92d050"},"encoding":{"x2":{"field":"x2"},"y2":{"field":"y2"}}},
 {"data":{"values":[{"x":56.11,"y":1.097,"t":"Differentially methylated region"}]},"mark":{"type":"text","fontSize":24,"font":"Lato","color":"black"},"encoding":{"text":{"field":"t"}}},
 {"data":{"values":[{"x":-7.51,"y":1.09,"t":"a"}]},"mark":{"type":"text","fontSize":36,"font":"Liberation Sans","fontWeight":"bold","color":"black"},"encoding":{"text":{"field":"t"}}},
 {"data":{"values":[{"x":-3.29,"y":0.515,"t":"Proportion methylation"}]},"mark":{"type":"text","fontSize":25,"font":"Lato","angle":270,"color":"black"},"encoding":{"text":{"field":"t"}}},
 {"data":{"name":"dna"},"mark":{"type":"text","fontSize":26.5,"font":"Lato","baseline":"alphabetic"},
  "encoding":{"text":{"field":"t"},"color":{"condition":{"test":"datum.r == 'r'","value":"#ff0000"},"value":"#000000"}}},
 {"data":{"values":[{"x":0.135,"x2":23.85,"y":0.58,"y2":1.0475}]},"mark":{"type":"rect","fill":"white","stroke":"black","strokeWidth":1.5,"cornerRadius":27},"encoding":{"x2":{"field":"x2"},"y2":{"field":"y2"}}},
 {"data":{"name":"obs"},"transform":[{"filter":"datum.g == 'b'"}],"mark":{"type":"point","shape":"diamond","filled":true,"size":170,"color":"#6ea8e6","opacity":1}},
 {"data":{"values":[{"x":4.91,"y":0.9225},{"x":4.91,"y":0.8375},{"x":4.91,"y":0.775},{"x":4.91,"y":0.74}]},"mark":{"type":"point","shape":"diamond","filled":true,"size":170,"color":"#6ea8e6","opacity":1}},
 {"data":{"name":"obs"},"transform":[{"filter":"datum.g == 'r'"}],"mark":{"type":"point","shape":"M1,0L0.55,0.23L0.71,0.71L0.23,0.55L0,1L-0.23,0.55L-0.71,0.71L-0.55,0.23L-1,0L-0.55,-0.23L-0.71,-0.71L-0.23,-0.55L0,-1L0.23,-0.55L0.71,-0.71L0.55,-0.23Z","filled":true,"size":210,"color":"#d4625c","opacity":1}},
 {"data":{"name":"dashA"},"mark":{"type":"line","interpolate":"monotone","strokeWidth":3,"strokeDash":[11,7]},
  "encoding":{"detail":{"field":"id"},"color":{"field":"g","type":"nominal","scale":{"domain":["b","r"],"range":["#4b87c5","#cf625b"]},"legend":null}}},
 {"data":{"name":"arcsA"},"mark":{"type":"line","interpolate":"natural","strokeWidth":2.5},
  "encoding":{"detail":{"field":"id"},"order":{"field":"o"},"color":{"field":"g","type":"nominal","scale":{"domain":["b","r"],"range":["#4b87c5","#cf625b"]},"legend":null}}},
 {"data":{"name":"arcsA"},"transform":[{"filter":"datum.o == 1"}],"mark":{"type":"point","shape":"circle","filled":true,"size":110,"opacity":1},
  "encoding":{"color":{"field":"g","type":"nominal","scale":{"domain":["b","r"],"range":["#4b87c5","#cf625b"]},"legend":null}}},
 {"data":{"values":[{"x":-1.855,"y":0,"x2":-1.855,"y2":1.03},{"x":-1.855,"y":0,"x2":86.92,"y2":0},{"x":42.17,"y":0.24,"x2":42.17,"y2":0.7975},{"x":10.96,"y":0.98,"x2":7.54,"y2":0.905},{"x":12.71,"y":0.905,"x2":9.31,"y2":0.8225},{"x":15.66,"y":0.715,"x2":19.64,"y2":0.825}]},
  "mark":{"type":"rule","color":"black","strokeWidth":2.8},"encoding":{"x2":{"field":"x2"},"y2":{"field":"y2"}}},
 {"data":{"values":[{"x":-1.855,"y":1.03,"a":0},{"x":86.92,"y":0,"a":90},{"x":42.17,"y":0.7975,"a":0},{"x":42.17,"y":0.24,"a":180},{"x":7.54,"y":0.905,"a":235},{"x":9.31,"y":0.8225,"a":232},{"x":19.64,"y":0.825,"a":49}]},
  "mark":{"type":"point","shape":"M-0.7,0.7L0,0L0.7,0.7","filled":false,"color":"black","strokeWidth":2.8,"size":380,"opacity":1},"encoding":{"angle":{"field":"a","type":"quantitative","scale":null}}},
 {"data":{"values":[{"x":15.66,"y":1.0075,"t":"Random effect"},{"x":17.57,"y":0.9375,"t":"Average methylation"},{"x":17.89,"y":0.885,"t":"level"},{"x":15.74,"y":0.675,"t":"Unobserved"},{"x":15.82,"y":0.615,"t":"methylation profile"}]},
  "mark":{"type":"text","fontSize":17,"font":"Lato","color":"black"},"encoding":{"text":{"field":"t"}}},
 {"data":{"values":[{"x":3.16,"y":0.81,"t":"Replicates"}]},"mark":{"type":"text","fontSize":17,"font":"Lato","angle":270,"color":"black"},"encoding":{"text":{"field":"t"}}},
 {"data":{"values":[{"x":43.37,"y":0.53,"t":"Methylation  probability"},{"x":46.55,"y":0.5175,"t":"difference"}]},"mark":{"type":"text","fontSize":23,"font":"Lato","angle":270,"color":"black"},"encoding":{"text":{"field":"t"}}}
]
},
{
"width":1214,"height":490,
"encoding":{
 "x":{"field":"x","type":"quantitative","scale":{"domain":[-9.18,87.48],"nice":false,"zero":false},"axis":null},
 "y":{"field":"y","type":"quantitative","scale":{"domain":[-0.0975,1.1275],"nice":false,"zero":false},"axis":null}
},
"layer":[
 {"data":{"name":"bands"},"mark":{"type":"rect","color":"#e6e6e6"},
  "encoding":{"x2":{"field":"x2"},"y":{"datum":0,"type":"quantitative","scale":{"domain":[-0.0975,1.1275],"nice":false,"zero":false},"axis":null},"y2":{"datum":1.0325}}},
 {"data":{"values":[{"x":-1.22,"x2":86.6,"y":1.0925}]},"mark":{"type":"rule","color":"black","strokeWidth":9},"encoding":{"x2":{"field":"x2"}}},
 {"data":{"values":[{"x":35.17,"x2":77.05,"y":1.05,"y2":1.1375}]},"mark":{"type":"rect","color":"#92d050"},"encoding":{"x2":{"field":"x2"},"y2":{"field":"y2"}}},
 {"data":{"values":[{"x":56.11,"y":1.0925,"t":"Differentially methylated region"}]},"mark":{"type":"text","fontSize":24,"font":"Lato","color":"black"},"encoding":{"text":{"field":"t"}}},
 {"data":{"values":[{"x":-7.27,"y":1.0875,"t":"b"}]},"mark":{"type":"text","fontSize":36,"font":"Liberation Sans","fontWeight":"bold","color":"black"},"encoding":{"text":{"field":"t"}}},
 {"data":{"values":[{"x":-3.29,"y":0.51,"t":"Proportion methylation"}]},"mark":{"type":"text","fontSize":25,"font":"Lato","angle":270,"color":"black"},"encoding":{"text":{"field":"t"}}},
 {"data":{"name":"bars"},"mark":{"type":"rule","strokeWidth":4,"color":"#d9706b","opacity":0.6},
  "encoding":{"x":{"field":"xr","type":"quantitative","scale":{"domain":[-9.18,87.48],"nice":false,"zero":false},"axis":null},"y":{"field":"rl","type":"quantitative","scale":{"domain":[-0.0975,1.1275],"nice":false,"zero":false},"axis":null},"y2":{"field":"rh"}}},
 {"data":{"name":"bars"},"mark":{"type":"rule","strokeWidth":4,"color":"#5b93cf","opacity":0.6},
  "encoding":{"y":{"field":"bl","type":"quantitative","scale":{"domain":[-0.0975,1.1275],"nice":false,"zero":false},"axis":null},"y2":{"field":"bh"}}},
 {"data":{"name":"dna"},"mark":{"type":"text","fontSize":26.5,"font":"Lato","baseline":"alphabetic"},
  "encoding":{"text":{"field":"t"},"color":{"condition":{"test":"datum.r == 'r'","value":"#ff0000"},"value":"#000000"}}},
 {"data":{"name":"dashB"},"mark":{"type":"line","interpolate":"monotone","strokeWidth":3,"strokeDash":[11,7]},
  "encoding":{"detail":{"field":"id"},"color":{"field":"g","type":"nominal","scale":{"domain":["b","r"],"range":["#4b87c5","#cf625b"]},"legend":null}}},
 {"data":{"name":"obs"},"transform":[{"filter":"datum.g == 'b'"}],"mark":{"type":"point","shape":"diamond","filled":true,"size":170,"color":"#6ea8e6","opacity":1}},
 {"data":{"name":"obs"},"transform":[{"filter":"datum.g == 'r'"}],"mark":{"type":"point","shape":"M1,0L0.55,0.23L0.71,0.71L0.23,0.55L0,1L-0.23,0.55L-0.71,0.71L-0.55,0.23L-1,0L-0.55,-0.23L-0.71,-0.71L-0.23,-0.55L0,-1L0.23,-0.55L0.71,-0.71L0.55,-0.23Z","filled":true,"size":210,"color":"#d4625c","opacity":1}},
 {"data":{"values":[{"id":"A","o":0,"x":27.52,"y":0.9375},{"id":"A","o":1,"x":40.17,"y":0.9375},{"id":"A","o":2,"x":40.49,"y":0.92},{"id":"A","o":3,"x":40.49,"y":0.255},{"id":"A","o":4,"x":40.17,"y":0.24},{"id":"A","o":5,"x":27.84,"y":0.24},{"id":"B","o":0,"x":58.72,"y":0.785},{"id":"B","o":1,"x":65.66,"y":0.785},{"id":"B","o":2,"x":65.98,"y":0.77},{"id":"B","o":3,"x":65.98,"y":0.16},{"id":"B","o":4,"x":65.66,"y":0.145},{"id":"B","o":5,"x":58.89,"y":0.145}]},
  "mark":{"type":"line","color":"black","strokeWidth":2.5,"strokeDash":[6,4]},"encoding":{"detail":{"field":"id"},"order":{"field":"o"}}},
 {"data":{"values":[{"x":-1.855,"y":0,"x2":-1.855,"y2":1.025},{"x":-1.855,"y":0,"x2":86.92,"y2":0},{"x":40.65,"y":0.5925,"x2":41.77,"y2":0.5925},{"x":66.38,"y":0.47,"x2":67.1,"y2":0.47}]},
  "mark":{"type":"rule","color":"black","strokeWidth":2.8},"encoding":{"x2":{"field":"x2"},"y2":{"field":"y2"}}},
 {"data":{"values":[{"x":-1.855,"y":1.025,"a":0},{"x":86.92,"y":0,"a":90},{"x":27.52,"y":0.9375,"a":270},{"x":38.35,"y":0.9375,"a":90},{"x":27.84,"y":0.24,"a":270},{"x":38.43,"y":0.24,"a":90},{"x":58.72,"y":0.785,"a":270},{"x":64.31,"y":0.785,"a":90},{"x":58.89,"y":0.145,"a":270},{"x":64.23,"y":0.145,"a":90}]},
  "mark":{"type":"point","shape":"M-0.7,0.7L0,0L0.7,0.7","filled":false,"color":"black","strokeWidth":3,"size":300,"opacity":1},"encoding":{"angle":{"field":"a","type":"quantitative","scale":null}}},
 {"data":{"values":[{"x":33.59,"y":0.98,"t":"CpG spacing"},{"x":62.16,"y":0.1025,"t":"CpG spacing"}]},"mark":{"type":"text","fontSize":22,"font":"Lato","color":"black"},"encoding":{"text":{"field":"t"}}},
 {"data":{"values":[{"x":46.63,"y":0.625,"t":"Smoothing"},{"x":46.87,"y":0.545,"t":"scenario 1"},{"x":72.83,"y":0.4925,"t":"Smoothing"},{"x":72.99,"y":0.4125,"t":"scenario 2"}]},"mark":{"type":"text","fontSize":22,"font":"Lato","fontWeight":"bold","color":"black"},"encoding":{"text":{"field":"t"}}},
 {"data":{"values":[{"x":28.96,"y":-0.0625,"t":"CpG:"},{"x":39.62,"y":-0.0625,"t":"CpG:"},{"x":60.57,"y":-0.0625,"t":"CpG:"},{"x":65.98,"y":-0.0625,"t":"CpG:"}]},"mark":{"type":"text","fontSize":21,"font":"Lato","align":"right","color":"black"},"encoding":{"text":{"field":"t"}}},
 {"data":{"values":[{"x":28.96,"y":-0.0625,"t":"A"},{"x":39.62,"y":-0.0625,"t":"B"},{"x":60.57,"y":-0.0625,"t":"C"},{"x":65.98,"y":-0.0625,"t":"D"}]},"mark":{"type":"text","fontSize":21,"font":"Lato","fontWeight":"bold","align":"left","color":"black"},"encoding":{"text":{"field":"t"}}},
 {"data":{"values":[{"x":78.95,"y":-0.0575,"t":"DNA sequence"}]},"mark":{"type":"text","fontSize":25,"font":"Lato","color":"black"},"encoding":{"text":{"field":"t"}}}
]
}
]
}
